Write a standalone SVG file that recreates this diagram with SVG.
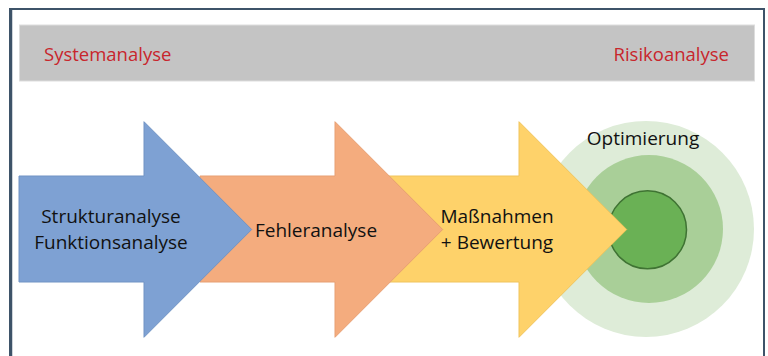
<svg xmlns="http://www.w3.org/2000/svg" width="768" height="356" viewBox="0 0 768 356">
<style>
.lbl{font-family:"Open Sans","Noto Sans","Liberation Sans",sans-serif;font-size:19px;fill:#111;text-anchor:middle}
.hdr{font-family:"Open Sans","Noto Sans","Liberation Sans",sans-serif;font-size:18.5px;fill:#c8262c}
.arr{stroke-width:1;stroke-linejoin:miter}
</style>
<rect x="0" y="0" width="768" height="356" fill="#ffffff"/>
<rect x="10" y="9" width="754" height="360" fill="#ffffff" stroke="#3e5369" stroke-width="2"/>
<line x1="11.5" y1="9" x2="11.5" y2="356" stroke="#3e5369" stroke-width="1.5"/>
<g id="band">
<rect x="19.5" y="25" width="735" height="56" fill="#c4c4c4" stroke="#dddddd" stroke-width="1"/>
<text class="hdr" x="44" y="61">Systemanalyse</text>
<text class="hdr" x="729" y="61" text-anchor="end">Risikoanalyse</text>
</g>
<g id="optimierung">
<circle cx="646" cy="229" r="108" fill="#deecd8"/>
<circle cx="649" cy="229" r="74" fill="#a9cf98"/>
<circle cx="647.5" cy="229.8" r="39" fill="#6ab155" stroke="#3f7333" stroke-width="1.5"/>
<text class="lbl" x="643" y="144.5">Optimierung</text>
</g>
<g id="massnahmen">
<polygon class="arr" points="385,176 519,176 519,121.7 626.7,229.5 519,337.3 519,282 385,282" fill="#fed26a" stroke="#f0c45c"/>
<text class="lbl" x="497" y="223.3">Maßnahmen</text>
<text class="lbl" x="497" y="249.3">+ Bewertung</text>
</g>
<g id="fehleranalyse">
<polygon class="arr" points="200,176 335,176 335,121.7 442.7,229.5 335,337.3 335,282 200,282" fill="#f4ac7e" stroke="#e79f72"/>
<text class="lbl" x="316" y="236.5">Fehleranalyse</text>
</g>
<g id="strukturanalyse">
<polygon class="arr" points="19,176 144,176 144,121.7 251.7,229.5 144,337.3 144,282 19,282" fill="#7ea1d3" stroke="#7093c4"/>
<text class="lbl" x="111" y="223.3">Strukturanalyse</text>
<text class="lbl" x="111" y="249.3">Funktionsanalyse</text>
</g>
<g id="connectors"></g>
</svg>
